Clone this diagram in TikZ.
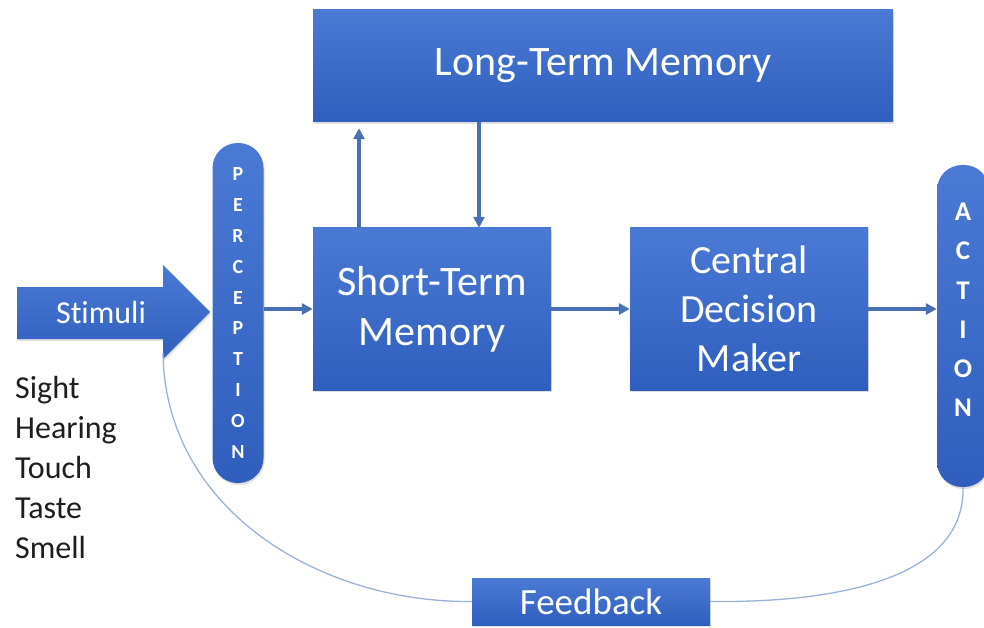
\documentclass[tikz,border=0pt]{standalone}
\usepackage{fontspec}
\setmainfont{Carlito}[Ligatures={NoCommon}]
\usetikzlibrary{arrows.meta,shadows}
\definecolor{boxtop}{HTML}{4A7AD4}
\definecolor{boxbot}{HTML}{2F5EBE}
\definecolor{conn}{HTML}{4A70B4}
\definecolor{fbcol}{HTML}{9AB2D6}
\definecolor{txtdark}{HTML}{1E1E1E}
\begin{document}
\begin{tikzpicture}[x=1pt,y=-1pt,
  blk/.style={rectangle, top color=boxtop, bottom color=boxbot, draw=none, text=white, inner sep=0pt,
    drop shadow={opacity=0.25,shadow xshift=1pt,shadow yshift=-2pt}},
  pill/.style={blk, rounded corners=25pt, align=center},
  conn/.style={draw=conn, line width=3.2pt, -{Triangle[length=11pt,width=11pt]}},
  fbline/.style={draw=fbcol, line width=1.3pt},
  letters/.style={text=white, align=center, inner sep=0pt}]
\useasboundingbox (0,0) rectangle (984,628);

% boxes
\node[blk, minimum width=580pt, minimum height=112pt, font=\fontsize{42}{50}\selectfont] (ltm) at (603,66) {Long-Term Memory};
\node[blk, minimum width=238pt, minimum height=162pt, align=center, font=\fontsize{42}{50}\selectfont] (stm) at (432,309) {Short-Term\\Memory};
\node[blk, minimum width=238pt, minimum height=162pt, align=center, font=\fontsize{40}{49}\selectfont] (cdm) at (749,309) {Central\\Decision\\Maker};
\node[blk, minimum width=238pt, minimum height=47pt, font=\fontsize{37}{44}\selectfont] (fb) at (591,601.5) {Feedback};

% pills
\node[pill, minimum width=51pt, minimum height=340pt, font=\fontsize{20}{30.9}\selectfont\bfseries] (perc) at (238,313) {P\\E\\R\\C\\E\\P\\T\\I\\O\\N};
\node[pill, minimum width=52pt, minimum height=322pt] (action) at (963,326) {};
\node[letters, font=\fontsize{27}{39.2}\selectfont\bfseries] (acttxt) at (963,310) {A\\C\\T\\I\\O\\N};

% stimuli arrow
\path[top color=boxtop, bottom color=boxbot, drop shadow={opacity=0.25,shadow xshift=1pt,shadow yshift=-2pt}]
  (17,287) -- (163,287) -- (163,265) -- (210,312) -- (163,359) -- (163,339) -- (17,339) -- cycle;
\node[text=white, font=\fontsize{32}{38}\selectfont] (stim) at (101,313) {Stimuli};

% senses
\node[anchor=north west, align=left, inner sep=0pt, text=txtdark, font=\fontsize{32}{40}\selectfont] (senses) at (15,376) {Sight\\Hearing\\Touch\\Taste\\Smell};

% connectors
\draw[conn] (perc.east |- cdm.west) -- (stm.west |- cdm.west);
\draw[conn] (stm.east |- cdm.west) -- (cdm.west);
\draw[conn] (cdm.east) -- (action.west |- cdm.east);
\draw[conn] ([xshift=-73pt]stm.north) -- ([xshift=-73pt,yshift=-6pt]stm.north |- ltm.south);
\draw[conn] ([xshift=47pt]stm.north |- ltm.south) -- ([xshift=47pt]stm.north);

% feedback loop
\coordinate (fbstart) at (163,353);
\draw[fbline] (fbstart) .. controls (165,510) and (320,603) .. (fb.west);
\draw[fbline] (fb.east) .. controls (860,603) and (965,570) .. (action.south);
\end{tikzpicture}
\end{document}
